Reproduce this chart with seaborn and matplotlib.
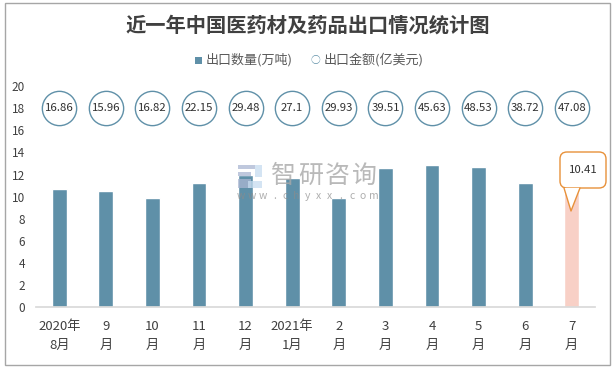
import seaborn as sns
import matplotlib.pyplot as plt
import pandas as pd
from matplotlib.lines import Line2D
from matplotlib.patches import Rectangle, Polygon, FancyBboxPatch
from matplotlib.transforms import IdentityTransform

months = ['2020年\n8月', '9\n月', '10\n月', '11\n月', '12\n月', '2021年\n1月',
          '2\n月', '3\n月', '4\n月', '5\n月', '6\n月', '7\n月']
export_qty = [10.65, 10.55, 9.85, 11.25, 12.0, 11.65, 9.85, 12.55, 12.9, 12.65, 11.2, 10.41]
export_value = ['16.86', '15.96', '16.82', '22.15', '29.48', '27.1',
                '29.93', '39.51', '45.63', '48.53', '38.72', '47.08']
bubble_level = [18] * 12
y_ticks = [0, 2, 4, 6, 8, 10, 12, 14, 16, 18, 20]

sns.set_theme(style='white')
plt.rcParams['font.family'] = ['Noto Sans CJK SC', 'DejaVu Sans']

W, H = 616, 368
BLUE = '#5f90a8'
TEXT = '#404040'
ORANGE = '#e8913a'
PX = IdentityTransform()

df = pd.DataFrame({'month': months, 'qty': export_qty, 'level': bubble_level})

fig = plt.figure(figsize=(W / 100, H / 100), dpi=100)
ax = fig.add_axes([36 / W, 1 - 307.3 / H, 559 / W, 221.3 / H])


def px_rect(x, y, w, h, **kw):
    # x, y measured from the top left of the picture
    fig.add_artist(Rectangle((x, H - y - h), w, h, transform=PX, edgecolor='none', **kw))


# Bars, last month highlighted
colors = [BLUE] * 11 + ['#f8d0c6']
sns.barplot(data=df, x='month', y='qty', hue='month', palette=colors,
            legend=False, width=0.32, ax=ax, saturation=1)

# Export value bubbles
sns.scatterplot(data=df, x='month', y='level', s=610, facecolor='white',
                edgecolor=BLUE, linewidth=1, ax=ax, zorder=3, legend=False)
for i, v in enumerate(export_value):
    ax.text(i, bubble_level[i], v, ha='center', va='center', fontsize=8.2,
            color='#303030', zorder=4)

ax.set_ylim(0, 20)
ax.set_xlim(-0.5, 11.5)
ax.set_yticks(y_ticks)
ax.set_xlabel('')
ax.set_ylabel('')
ax.tick_params(axis='y', length=0, labelsize=8.5, labelcolor=TEXT, pad=8)
ax.tick_params(axis='x', length=0, labelsize=9.5, labelcolor=TEXT, pad=9)
for lab in ax.get_xticklabels():
    lab.set_linespacing(1.6)
sns.despine(ax=ax, left=True)
ax.spines['bottom'].set_color('#d9d9d9')
ax.patch.set_alpha(0)

# Outer frame
fig.add_artist(Rectangle((4.5, H - 364.5), 605, 362, transform=PX,
                         fill=False, edgecolor='#a6a6a6', linewidth=1))

fig.text(308 / W, 1 - 25 / H, '近一年中国医药材及药品出口情况统计图', ha='center', va='center',
         fontsize=14.6, fontweight='bold', color='#404040')

# Legend
px_rect(195, 56.5, 7, 7, facecolor=BLUE)
fig.text(206 / W, 1 - 60 / H, '出口数量(万吨)', ha='left', va='center', fontsize=9.4, color='#595959')
fig.text(315.5 / W, 1 - 60.5 / H, '○', ha='center', va='center', fontsize=7, color=BLUE)
fig.text(323.5 / W, 1 - 60 / H, '出口金额(亿美元)', ha='left', va='center', fontsize=9.4, color='#595959')

# Watermark
for i, ch in enumerate('智研咨询'):
    fig.text((283 + i * 27.3) / W, 1 - 176 / H, ch, ha='center', va='center', fontsize=18,
             color='#a8a8a8', alpha=0.8, zorder=6)
for i, ch in enumerate('www.chyxx.com'):
    fig.text((241 + i * 11.1) / W, 1 - 196 / H, ch, ha='center', va='center', fontsize=7.5,
             color='#8c8c8c', alpha=0.7, zorder=6)
for x, y, w, h, c in [(238, 165, 17, 4, '#aab6d2'), (238, 172, 13, 4, '#aab6d2'),
                      (238, 179, 13, 9, '#aab6d2'), (255, 165, 7, 12, '#c6dcef'),
                      (248, 181, 14, 7, '#c6dcef')]:
    px_rect(x, y, w, h, facecolor=c, alpha=0.75, zorder=6)

# Callout for the latest month
fig.add_artist(FancyBboxPatch((560, H - 188), 46, 36, boxstyle='round,pad=0,rounding_size=7',
                              transform=PX, facecolor='white', edgecolor=ORANGE,
                              linewidth=1, zorder=7))
tail = [(564, H - 188), (571, H - 211), (580, H - 188)]
fig.add_artist(Polygon(tail, transform=PX, facecolor='white', edgecolor='none', zorder=8))
fig.add_artist(Line2D([p[0] for p in tail], [p[1] for p in tail], transform=PX,
                      color=ORANGE, linewidth=1, zorder=9))
fig.text(583.5 / W, 1 - 170 / H, f'{export_qty[-1]:.2f}', ha='center', va='center', fontsize=8.2,
         color='#303030', zorder=10)

plt.savefig('out.png', dpi=100)
